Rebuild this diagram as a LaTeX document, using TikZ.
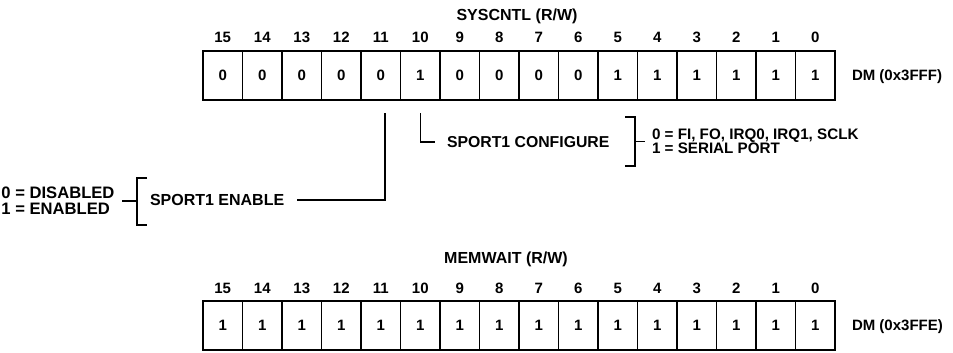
\documentclass[tikz,border=0pt]{standalone}
\usepackage{fontspec}
\setmainfont{Liberation Sans}
\begin{document}
\begin{tikzpicture}[x=1pt,y=-1pt,
  every node/.style={inner sep=0pt, outer sep=0pt},
  lbl/.style={font=\fontsize{15}{13.5}\selectfont\bfseries, text height=10.7pt, text depth=0pt},
  big/.style={font=\fontsize{16}{14}\selectfont\bfseries, text height=11.4pt, text depth=0pt},
  cell/.style={draw, line width=1.4pt, minimum width=39.5pt, minimum height=49pt, lbl},
  conn/.style={line width=1.3pt},
  nib/.style={line width=2.4pt},
  frame/.style={line width=1.9pt}]
\useasboundingbox (0,0) rectangle (953,353);

% ---------- SYSCNTL ----------
\node[big] (t1) at (517,15) {SYSCNTL (R/W)};
\foreach \b/\v [count=\c from 0] in {15/0,14/0,13/0,12/0,11/0,10/1,9/0,8/0,7/0,6/0,5/1,4/1,3/1,2/1,1/1,0/1}{
  \node[cell] (s\b) at ({222.75+\c*39.5},75.5) {\v};
  \node[lbl] (sn\b) at ({222.75+\c*39.5},37) {\b};
}
\draw[frame] (s15.north west) rectangle (s0.south east);
\foreach \b in {12,8,4}{ \draw[nib] (s\b.north east) -- (s\b.south east); }
\node[lbl, anchor=west] (dm1) at (852,75.5) {DM (0x3FFF)};

% ---------- MEMWAIT ----------
\node[big] (t2) at (506,258) {MEMWAIT (R/W)};
\foreach \b [count=\c from 0] in {15,14,...,0}{
  \node[cell] (m\b) at ({222.75+\c*39.5},325.5) {1};
  \node[lbl] (mn\b) at ({222.75+\c*39.5},288) {\b};
}
\draw[frame] (m15.north west) rectangle (m0.south east);
\foreach \b in {12,8,4}{ \draw[nib] (m\b.north east) -- (m\b.south east); }
\node[lbl, anchor=west] (dm2) at (852,325.5) {DM (0x3FFE)};

% ---------- SPORT1 CONFIGURE (bit 10) ----------
\node[lbl, font=\fontsize{15.8}{14}\selectfont\bfseries, anchor=west] (cfg) at (447,142) {SPORT1 CONFIGURE};
\coordinate (c10) at ([yshift=-13pt]s10.south);
\draw[conn] (c10) |- ([xshift=-12pt]cfg.west);
\draw[conn] (625,117) -- (635,117) -- (635,166) -- (625,166);
\draw[conn] (635,141.5) -- (645,141.5);
\node[font=\fontsize{15.2}{14}\selectfont\bfseries, align=left, anchor=west] (cfgv) at (652,141) {0 = FI, FO, IRQ0, IRQ1, SCLK\\1 = SERIAL PORT};

% ---------- SPORT1 ENABLE (bit 11) ----------
\node[big, anchor=west] (en) at (150,200) {SPORT1 ENABLE};
\coordinate (c11) at ([xshift=4.25pt,yshift=-13pt]s11.south);
\draw[conn] (c11) |- ([xshift=13pt]en.east);
\draw[conn] (147,178) -- (137,178) -- (137,225) -- (147,225);
\draw[conn] (122,201) -- (137,201);
\node[font=\fontsize{16.6}{16}\selectfont\bfseries, align=left, anchor=west] (env) at (1.5,201) {0 = DISABLED\\1 = ENABLED};
\end{tikzpicture}
\end{document}
